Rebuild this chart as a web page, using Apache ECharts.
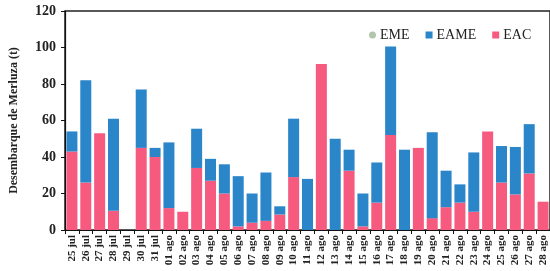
<!DOCTYPE html>
<html>
<head>
<meta charset="utf-8">
<script src="https://cdn.jsdelivr.net/npm/echarts@6/dist/echarts.min.js"></script>
<style>
  html, body { margin: 0; padding: 0; background: #fff; }
  #chart { width: 550px; height: 271px; }
</style>
</head>
<body>
<div id="chart"></div>
<script>
// fechas (eje x)
const dias = [
  '25 jul', '26 jul', '27 jul', '28 jul', '29 jul', '30 jul', '31 jul',
  '01 ago', '02 ago', '03 ago', '04 ago', '05 ago', '06 ago', '07 ago',
  '08 ago', '09 ago', '10 ago', '11 ago', '12 ago', '13 ago', '14 ago',
  '15 ago', '16 ago', '17 ago', '18 ago', '19 ago', '20 ago', '21 ago',
  '22 ago', '23 ago', '24 ago', '25 ago', '26 ago', '27 ago', '28 ago'
]

// desembarques por flota (t)
const eac = [
  43, 26, 53, 10.5, 0, 45, 40,
  12, 10, 34, 27, 20, 2, 4,
  5, 8.5, 29, 0, 91, 0, 32.5,
  2, 15, 52, 0, 45, 6.5, 12.5,
  15, 10, 54, 26, 19.5, 31, 15.5
]
const eame = [
  11, 56, 0, 50.5, 0, 32, 5,
  36, 0, 21.5, 12, 16, 27.5, 16,
  26.5, 4.5, 32, 28, 0, 50, 11.5,
  18, 22, 48.5, 44, 0, 47, 20,
  10, 32.5, 0, 20, 26, 27, 0
]
const eme = dias.map(() => 0)

const yTicks = { min: 0, max: 120, interval: 20 }

const serif = '"Liberation Serif", "DejaVu Serif", serif'
const azul = '#2a85c9'
const rosa = '#f65b7f'

const chart = echarts.init(document.getElementById('chart'))
chart.setOption({
  animation: false,
  textStyle: { fontFamily: serif },
  grid: {
    left: 60, top: 11, width: 492, bottom: 41,
    show: true, borderColor: '#222', borderWidth: 1.5
  },
  legend: {
    left: 364, top: 23,
    itemWidth: 7, itemHeight: 7, itemGap: 16,
    textStyle: { fontFamily: serif, fontSize: 14, color: '#222', padding: [0, 0, 0, -1] },
    data: [
      { name: 'EME', icon: 'circle', itemStyle: { color: '#b2c4ab' } },
      { name: 'EAME', icon: 'rect' },
      { name: 'EAC', icon: 'rect' }
    ]
  },
  xAxis: {
    type: 'category',
    data: dias,
    axisLine: { lineStyle: { color: '#111', width: 1.2 } },
    axisTick: { show: true, length: 4, lineStyle: { color: '#111' } },
    axisLabel: {
      rotate: 90, interval: 0, margin: 5,
      fontFamily: serif, fontSize: 11, fontWeight: 'bold', color: '#222'
    }
  },
  yAxis: {
    type: 'value',
    min: yTicks.min, max: yTicks.max, interval: yTicks.interval,
    name: 'Desembarque de Merluza (t)',
    nameLocation: 'middle',
    nameGap: 45,
    nameTextStyle: { fontFamily: serif, fontSize: 12, fontWeight: 'bold', color: '#222' },
    axisLine: { show: true, lineStyle: { color: '#111', width: 1.2 } },
    axisTick: { show: true, length: 4, lineStyle: { color: '#111' } },
    axisLabel: { fontFamily: serif, fontSize: 14, fontWeight: 'bold', color: '#222', margin: 9 },
    splitLine: { show: false }
  },
  series: [
    { name: 'EAC', type: 'bar', stack: 't', data: eac, barWidth: 11, itemStyle: { color: rosa } },
    { name: 'EAME', type: 'bar', stack: 't', data: eame, barWidth: 11, itemStyle: { color: azul } },
    { name: 'EME', type: 'bar', stack: 't', data: eme, barWidth: 11, itemStyle: { color: '#b2c4ab' } }
  ]
})
</script>
</body>
</html>
